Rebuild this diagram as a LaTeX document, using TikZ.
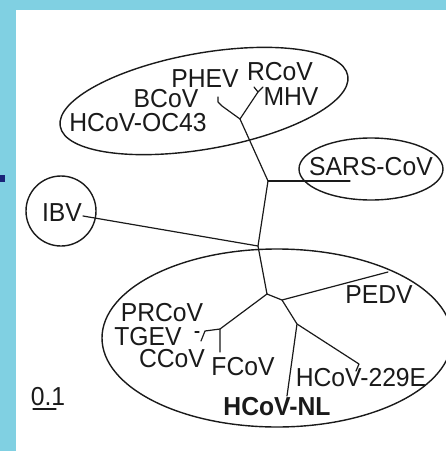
\documentclass[tikz,border=0pt]{standalone}
\usepackage{fontspec}
\newfontfamily\lblfont{Liberation Sans}[FakeStretch=0.95]
\definecolor{bgblue}{HTML}{80D0E2}
\definecolor{navy}{HTML}{1A2478}
\definecolor{ink}{HTML}{1A1A1A}
\begin{document}
\begin{tikzpicture}[x=1pt,y=-1pt,
  lbl/.style={font=\lblfont\fontsize{26}{26}\selectfont, inner sep=0pt, text=ink},
  boldlbl/.style={lbl, font=\lblfont\bfseries\fontsize{26}{26}\selectfont},
  branch/.style={line width=1.2pt, line join=round, line cap=round, draw=ink},
  grp/.style={line width=1.4pt, draw=ink}]
\fill[bgblue] (0,0) rectangle (446,451);
\fill[white] (16,10) rectangle (446,451);
\fill[navy] (0,175) rectangle (5,182);
\useasboundingbox (0,0) rectangle (446,451);
% group outlines
\draw[grp, rotate around={10:(204,101)}] (204,101) ellipse [x radius=146pt, y radius=48pt];
\draw[grp] (371,169) ellipse [x radius=72pt, y radius=31pt];
\draw[grp] (61,211) circle [radius=35pt];
\draw[grp] (277,338) ellipse [x radius=175pt, y radius=89pt];
% labels
\node[lbl] (phev) at (205,79) {PHEV};
\node[lbl] (rcov) at (280,72) {RCoV};
\node[lbl] (mhv) at (291,97) {MHV};
\node[lbl] (bcov) at (166,99) {BCoV};
\node[lbl] (oc43) at (138,123) {HCoV-OC43};
\node[lbl] (sars) at (371,167) {SARS-CoV};
\node[lbl] (ibv) at (62,213) {IBV};
\node[lbl] (pedv) at (379,295) {PEDV};
\node[lbl] (prcov) at (162,313) {PRCoV};
\node[lbl] (tgev) at (148,336.5) {TGEV};
\node[lbl] (ccov) at (172,358.5) {CCoV};
\node[lbl] (fcov) at (243,367) {FCoV};
\node[lbl] (e229) at (361,378) {HCoV-229E};
\node[boldlbl] (nl) at (277,407) {HCoV-NL};
\node[lbl] (scale) at (48,397) {0.1};
% tree coordinates
\coordinate (j1) at (240,119);
\coordinate (ph1) at (222,106);
\coordinate (ph2) at (218,102);
\coordinate (phE) at (218,97);
\coordinate (rc1) at (258,92);
\coordinate (mhE) at (263,87);
\coordinate (rcE) at (254,87);
\coordinate (j2) at (268,181);
\coordinate (sarsE) at (350,181);
\coordinate (k) at (258,246);
\coordinate (ibvE) at (83,216);
\coordinate (j3) at (267,294);
\coordinate (l) at (220,329);
\coordinate (fcE) at (220,352);
\coordinate (tg1) at (205,331);
\coordinate (tgE) at (201,341);
\coordinate (pr1) at (199,332);
\coordinate (prE) at (195,332);
\coordinate (m) at (282,300);
\coordinate (pedE) at (388,272);
\coordinate (n) at (297,324);
\coordinate (nlE) at (287,396);
\coordinate (e1) at (359,364);
\coordinate (eE) at (356,371);
\coordinate (sb1) at (33,409);
\coordinate (sb2) at (56,409);
% branches
\draw[branch] (j1) -- (ph1) -- (ph2) -- (phE);
\draw[branch] (j1) -- (rc1) -- (mhE);
\draw[branch] (rc1) -- (rcE);
\draw[branch] (j1) -- (j2) -- (k) -- (j3);
\draw[branch] (j2) -- (sarsE);
\draw[branch] (ibvE) -- (k);
\draw[branch] (j3) -- (l) -- (fcE);
\draw[branch] (l) -- (tg1) -- (tgE);
\draw[branch] (pr1) -- (prE);
\draw[branch] (j3) -- (m) -- (pedE);
\draw[branch] (m) -- (n) -- (nlE);
\draw[branch] (n) -- (e1) -- (eE);
\draw[branch] (sb1) -- (sb2);
\end{tikzpicture}
\end{document}
